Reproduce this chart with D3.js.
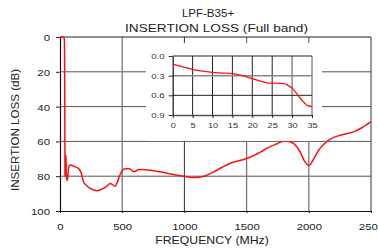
<!DOCTYPE html>
<html><head><meta charset="utf-8">
<script src="https://cdn.jsdelivr.net/npm/d3@7"></script>
<style>
html,body{margin:0;padding:0;background:#fff;}
svg{display:block;font-family:"Liberation Sans",Arial,sans-serif;}
</style></head>
<body><svg id="c" width="378" height="249"></svg>
<script>
// ---- data ----
const titleLines = ["LPF-B35+", "INSERTION LOSS (Full band)"];
const xLabel = "FREQUENCY (MHz)";
const yLabel = "INSERTION LOSS (dB)";
const mainXTicks = [0, 500, 1000, 1500, 2000, 2500];
const mainYTicks = [0, 20, 40, 60, 80, 100];
const mainFreq = [0, 20, 33, 36, 38, 40, 42, 46, 48, 51, 55, 58, 63, 70, 78, 89, 110, 148, 170, 188, 215, 242, 296, 350, 380, 404, 425, 444, 458, 471, 490, 511, 552, 598, 632, 700, 752, 862, 969, 1077, 1160, 1236, 1300, 1373, 1494, 1560, 1615, 1680, 1740, 1800, 1850, 1882, 1930, 1963, 2002, 2042, 2080, 2123, 2190, 2260, 2365, 2430, 2500];
const mainLoss = [0, 0, 0.5, 3, 30, 79, 80, 72, 68, 79, 82, 82.5, 80, 75, 73.8, 73.6, 74.3, 75.5, 78, 83, 85.5, 87, 88.3, 87, 85.5, 84.2, 85, 85.8, 84, 81.4, 78, 76, 75.6, 77.5, 76.1, 76.4, 76.8, 78.3, 79.8, 80.8, 80, 77.5, 75, 72.4, 70, 68, 66, 63.3, 61.5, 59.8, 60.2, 61.4, 66, 71, 73.8, 69.7, 65, 61.5, 58, 56.3, 54.4, 52, 48.7];
const insetXTicks = [0, 5, 10, 15, 20, 25, 30, 35];
const insetYTicks = [0.0, 0.3, 0.6, 0.9];
const insetFreq = [0, 2.5, 5, 7.5, 10, 12.5, 15, 17.5, 20, 22.5, 24, 26, 28, 29, 30, 31, 32, 33, 34, 35];
const insetLoss = [0.125, 0.165, 0.205, 0.23, 0.25, 0.26, 0.27, 0.30, 0.345, 0.39, 0.415, 0.415, 0.42, 0.45, 0.49, 0.56, 0.64, 0.71, 0.76, 0.77];

// ---- drawing ----
const svg = d3.select("#c");
const RED = "#ff1010";
const x = d3.scaleLinear().domain([0, 2500]).range([60, 371]);
const y = d3.scaleLinear().domain([0, 100]).range([37, 211]);

function txt(g, tx, ty, s, size, anchor, sx) {
  return g.append("text").attr("transform", `translate(${tx},${ty}) scale(${sx},1)`)
    .attr("text-anchor", anchor).attr("font-size", size).attr("fill", "#222").text(s);
}

// title
txt(svg, 208, 16.5, titleLines[0], 10.5, "middle", 1.1);
txt(svg, 216.5, 32, titleLines[1], 11, "middle", 1.24);

// main grid
const grid = svg.append("g");
grid.selectAll("line.h").data(mainYTicks.filter(d => d > 0 && d < 100)).join("line")
  .attr("x1", x(0)).attr("x2", x(2500)).attr("y1", d => y(d)).attr("y2", d => y(d))
  .attr("stroke", "#555").attr("stroke-width", 1);
grid.selectAll("line.v").data(mainXTicks.filter(d => d > 0 && d < 2500)).join("line")
  .attr("x1", d => x(d)).attr("x2", d => x(d)).attr("y1", y(0)).attr("y2", y(100))
  .attr("stroke", d => d === 1000 ? "#333" : "#777").attr("stroke-width", d => d === 1000 ? 1 : 1.3);
// frame top/right
svg.append("line").attr("x1", x(0)).attr("x2", x(2500)).attr("y1", y(0)).attr("y2", y(0)).attr("stroke", "#222");
svg.append("line").attr("x1", x(2500)).attr("x2", x(2500)).attr("y1", y(0)).attr("y2", y(100)).attr("stroke", "#333");

// axes
const yAx = svg.append("g").attr("transform", `translate(${x(0)},0)`)
  .call(d3.axisLeft(y).tickValues(mainYTicks).tickFormat(d3.format("d")).tickSize(4).tickSizeOuter(0));
yAx.select(".domain").attr("stroke", "#111").attr("stroke-width", 1.2);
yAx.selectAll("line").attr("stroke", "#222");
yAx.selectAll("text").attr("font-size", 9.5).attr("fill", "#222")
  .attr("x", -10 / 1.2).attr("dy", "0.36em").attr("transform", "scale(1.2,1)")
  .style("font-family", "Liberation Sans, Arial, sans-serif");

const xAx = svg.append("g").attr("transform", `translate(0,${y(100)})`)
  .call(d3.axisBottom(x).tickValues(mainXTicks).tickFormat(d3.format("d")).tickSize(2).tickSizeOuter(0));
xAx.select(".domain").attr("stroke", "#111").attr("stroke-width", 1.2);
xAx.selectAll("line").attr("stroke", "#222");
xAx.selectAll("text").attr("font-size", 9.5).attr("fill", "#222")
  .attr("y", 19).attr("dy", 0).attr("transform", "scale(1.2,1)")
  .style("font-family", "Liberation Sans, Arial, sans-serif");

// axis labels
txt(svg, 212, 243.5, xLabel, 10.5, "middle", 1.17);
svg.append("text").attr("transform", "translate(18.5,130) rotate(-90)")
  .attr("text-anchor", "middle").attr("font-size", 11.6).attr("fill", "#222").text(yLabel);

// main curve
const line = d3.line().x(d => x(d[0])).y(d => y(d[1])).curve(d3.curveMonotoneX);
svg.append("path").datum(mainFreq.map((f, i) => [f, mainLoss[i]]))
  .attr("d", line).attr("fill", "none").attr("stroke", RED).attr("stroke-width", 1.5);

// inset
const xi = d3.scaleLinear().domain([0, 35]).range([172.7, 312]);
const yi = d3.scaleLinear().domain([0, 0.9]).range([56, 115]);
svg.append("rect").attr("x", 146).attr("y", 43).attr("width", 176).attr("height", 98).attr("fill", "#fff");
const ig = svg.append("g");
ig.selectAll("line.iv").data(insetXTicks.filter(d => d > 0)).join("line")
  .attr("x1", d => xi(d)).attr("x2", d => xi(d)).attr("y1", yi(0)).attr("y2", yi(0.9))
  .attr("stroke", d => d === 30 ? "#888" : (d === 35 ? "#555" : "#222"))
  .attr("stroke-width", d => d === 30 ? 1.5 : 1);
ig.selectAll("line.ih").data(insetYTicks.filter(d => d > 0 && d < 0.9)).join("line")
  .attr("x1", xi(0)).attr("x2", xi(35)).attr("y1", d => yi(d)).attr("y2", d => yi(d))
  .attr("stroke", d => Math.abs(d - 0.3) < 1e-9 ? "#888" : "#222")
  .attr("stroke-width", d => Math.abs(d - 0.3) < 1e-9 ? 1.5 : 1);
ig.append("line").attr("x1", xi(0)).attr("x2", xi(35)).attr("y1", yi(0)).attr("y2", yi(0)).attr("stroke", "#222");

const yiAx = ig.append("g").attr("transform", `translate(${xi(0)},0)`)
  .call(d3.axisLeft(yi).tickValues(insetYTicks).tickFormat(d3.format(".1f")).tickSize(4).tickSizeOuter(0));
yiAx.select(".domain").attr("stroke", "#111").attr("stroke-width", 1.2);
yiAx.selectAll("line").attr("stroke", "#222");
yiAx.selectAll("text").attr("font-size", 8).attr("fill", "#333")
  .attr("x", -8 / 1.2).attr("dy", "0.33em").attr("transform", "scale(1.2,1)")
  .style("font-family", "Liberation Sans, Arial, sans-serif");

const xiAx = ig.append("g").attr("transform", `translate(0,${yi(0.9)})`)
  .call(d3.axisBottom(xi).tickValues(insetXTicks).tickSize(3).tickSizeOuter(0));
xiAx.select(".domain").attr("stroke", "#555").attr("stroke-width", 1.5);
xiAx.selectAll("line").attr("stroke", "#222");
xiAx.selectAll("text").attr("font-size", 8).attr("fill", "#333")
  .attr("y", 13).attr("dy", 0).attr("transform", "scale(1.15,1)")
  .style("font-family", "Liberation Sans, Arial, sans-serif");

const iline = d3.line().x(d => xi(d[0])).y(d => yi(d[1])).curve(d3.curveMonotoneX);
ig.append("path").datum(insetFreq.map((f, i) => [f, insetLoss[i]]))
  .attr("d", iline).attr("fill", "none").attr("stroke", RED).attr("stroke-width", 1.3);
</script></body></html>
